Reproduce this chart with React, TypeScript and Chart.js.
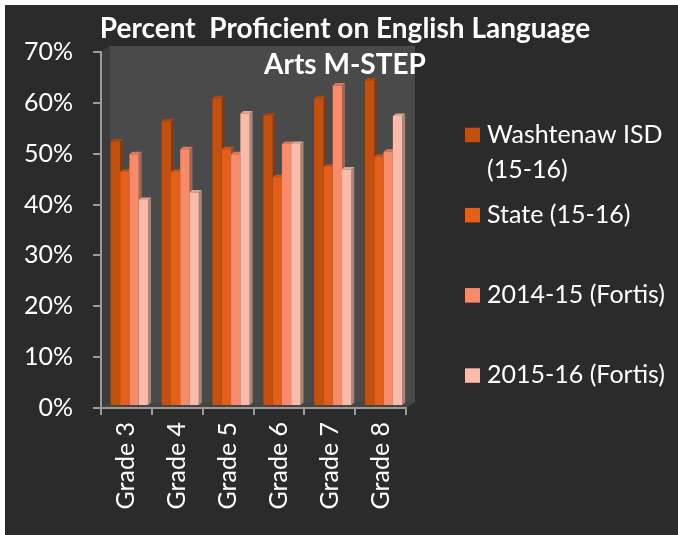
import React, { useEffect, useRef } from 'react';
import { Chart, registerables } from 'chart.js';

Chart.register(...registerables);

// ---------- data ----------
const categories = ['Grade 3', 'Grade 4', 'Grade 5', 'Grade 6', 'Grade 7', 'Grade 8'];
const washtenawISD = [52, 56, 60.5, 57, 60.5, 64];
const stateValues = [46, 46, 50.5, 45, 47, 49];
const fortis1415 = [49.5, 50.5, 49.5, 51.5, 63, 50];
const fortis1516 = [40.5, 42, 57.5, 51.5, 46.5, 57];
const seriesLabels = ['Washtenaw ISD (15-16)', 'State (15-16)', '2014-15 (Fortis)', '2015-16 (Fortis)'];
const seriesColors = ['#C2510F', '#E4601A', '#F98B6D', '#FBBBAA'];
const yMin = 0;
const yMax = 70;
const yStep = 10;
const titleLines = ['Percent  Proficient on English Language', 'Arts M-STEP'];

const FONT = 'Lato, "Open Sans", sans-serif';
const W = 673;
const H = 530;

function shade(hex: string, f: number): string {
  const n = parseInt(hex.slice(1), 16);
  const r = Math.round(((n >> 16) & 255) * f);
  const g = Math.round(((n >> 8) & 255) * f);
  const b = Math.round((n & 255) * f);
  return `rgb(${r},${g},${b})`;
}

const wallPlugin = {
  id: 'wall3d',
  beforeDraw(chart: any) {
    const { ctx, chartArea } = chart;
    const { left: L, right: R, top: T, bottom: B } = chartArea;
    const dx = 9, dy = 6;
    ctx.save();
    ctx.fillStyle = '#4a4a4a';
    ctx.fillRect(L + dx, T - dy, R - L, B - T);
    ctx.fillStyle = '#3b3b3b';
    ctx.beginPath();
    ctx.moveTo(L, T); ctx.lineTo(L + dx, T - dy); ctx.lineTo(L + dx, B - dy); ctx.lineTo(L, B);
    ctx.closePath(); ctx.fill();
    ctx.fillStyle = '#444444';
    ctx.beginPath();
    ctx.moveTo(L, B); ctx.lineTo(L + dx, B - dy); ctx.lineTo(R + dx, B - dy); ctx.lineTo(R, B);
    ctx.closePath(); ctx.fill();
    ctx.restore();
  },
};

const barsPlugin = {
  id: 'bars3d',
  beforeDatasetsDraw(chart: any) {
    const ctx = chart.ctx;
    const dx = 3, dy = 2.5;
    ctx.save();
    ctx.translate(3, -2);
    chart.data.datasets.forEach((ds: any, d: number) => {
      const meta = chart.getDatasetMeta(d);
      const color = ds.backgroundColor as string;
      meta.data.forEach((el: any) => {
        const { x, y, base, width } = el.getProps(['x', 'y', 'base', 'width'], true);
        const l = x - width / 2, r = x + width / 2;
        ctx.fillStyle = shade(color, 0.7);
        ctx.beginPath();
        ctx.moveTo(r, y); ctx.lineTo(r + dx, y - dy); ctx.lineTo(r + dx, base - dy); ctx.lineTo(r, base);
        ctx.closePath(); ctx.fill();
        ctx.fillStyle = shade(color, 0.88);
        ctx.beginPath();
        ctx.moveTo(l, y); ctx.lineTo(l + dx, y - dy); ctx.lineTo(r + dx, y - dy); ctx.lineTo(r, y);
        ctx.closePath(); ctx.fill();
      });
    });
  },
  afterDatasetsDraw(chart: any) {
    chart.ctx.restore();
  },
};

const textPlugin = {
  id: 'texts',
  afterDraw(chart: any) {
    const ctx = chart.ctx;
    ctx.save();
    ctx.fillStyle = '#ffffff';
    ctx.textAlign = 'center';
    ctx.textBaseline = 'alphabetic';
    ctx.font = `bold 28px ${FONT}`;
    ctx.fillText(titleLines[0], 340, 33);
    ctx.fillText(titleLines[1], 340, 69);

    // legend
    ctx.textAlign = 'left';
    ctx.font = `25px ${FONT}`;
    const maxW = 190;
    chart.data.datasets.forEach((ds: any, i: number) => {
      const top = 122.7 + i * 80.2;
      ctx.fillStyle = ds.backgroundColor;
      ctx.fillRect(460, top, 15, 14.5);
      ctx.fillStyle = '#ffffff';
      const words = String(ds.label).split(' ');
      const lines: string[] = [];
      let cur = '';
      words.forEach((w) => {
        const t = cur ? cur + ' ' + w : w;
        if (ctx.measureText(t).width > maxW && cur) { lines.push(cur); cur = w; } else cur = t;
      });
      if (cur) lines.push(cur);
      lines.forEach((ln, k) => ctx.fillText(ln, 482, top + 15 + k * 35));
    });
    ctx.restore();
  },
};

export default function App() {
  const ref = useRef<HTMLCanvasElement | null>(null);
  useEffect(() => {
    if (!ref.current) return;
    const values = [washtenawISD, stateValues, fortis1415, fortis1516];
    const axisColor = '#9a9a9a';
    const chart = new Chart(ref.current, {
      type: 'bar',
      data: {
        labels: categories,
        datasets: values.map((v, i) => ({
          label: seriesLabels[i],
          data: v,
          backgroundColor: seriesColors[i],
          borderWidth: 0,
          categoryPercentage: 0.73,
          barPercentage: 1,
        })),
      },
      options: {
        responsive: false,
        animation: false,
        devicePixelRatio: 1,
        layout: { padding: { left: 0, right: W - 401, top: 47, bottom: 0 } },
        plugins: { legend: { display: false }, title: { display: false }, tooltip: { enabled: false } },
        scales: {
          x: {
            afterFit: (s: any) => { s.height = H - 403; },
            border: { display: true, color: axisColor, width: 2 },
            grid: { display: true, drawOnChartArea: false, drawTicks: true, tickLength: 7, color: axisColor, lineWidth: 2, offset: true },
            ticks: {
              color: '#ffffff', font: { family: FONT, size: 25 },
              minRotation: 90, maxRotation: 90, autoSkip: false, padding: 7,
            },
          },
          y: {
            min: yMin, max: yMax,
            afterFit: (s: any) => { s.width = 96; },
            border: { display: true, color: axisColor, width: 2 },
            grid: { display: true, drawOnChartArea: false, drawTicks: true, tickLength: 8, color: axisColor, lineWidth: 2 },
            ticks: {
              stepSize: yStep, color: '#ffffff', font: { family: FONT, size: 25 }, padding: 20,
              callback: (v: any) => `${v}%`,
            },
          },
        },
      },
      plugins: [wallPlugin, barsPlugin, textPlugin],
    });
    return () => chart.destroy();
  }, []);

  return (
    <div style={{ position: 'fixed', left: 0, top: 0, width: 678, height: 535, background: '#ffffff' }}>
      <div style={{ position: 'absolute', left: 5, top: 5, width: W, height: H, background: '#2b2b2b' }}>
        <canvas ref={ref} width={W} height={H} style={{ display: 'block', width: W, height: H }} />
      </div>
    </div>
  );
}
